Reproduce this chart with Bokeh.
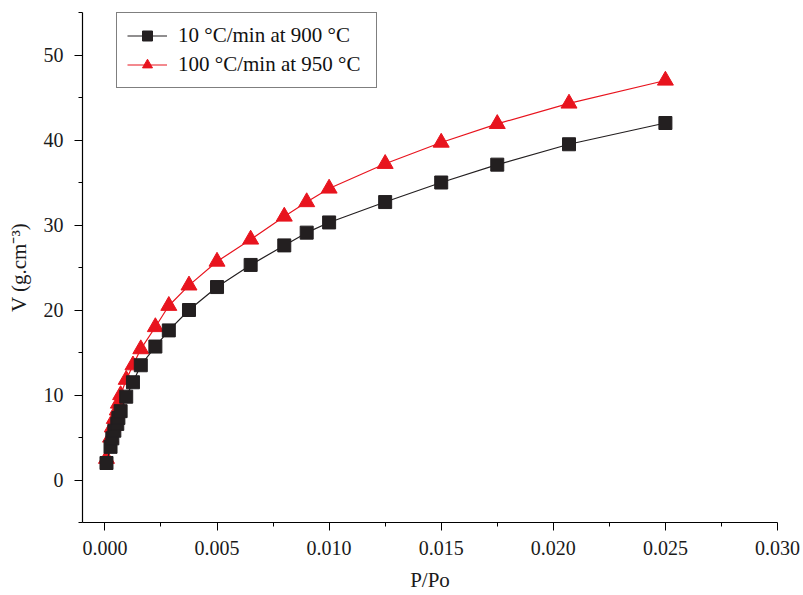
from bokeh.plotting import figure
from bokeh.models import FixedTicker, Legend, LegendItem, Range1d
from bokeh.embed import file_html
from bokeh.resources import INLINE

# P/Po values (shared by both series)
pp = [0.00007, 0.00025, 0.00033, 0.00042, 0.00055, 0.0006, 0.0007, 0.00095,
      0.00125, 0.0016, 0.00225, 0.00285, 0.00375, 0.005, 0.0065, 0.008,
      0.009, 0.010, 0.0125, 0.015, 0.0175, 0.0207, 0.025]
v_900 = [2.0, 3.9, 4.9, 5.8, 6.6, 7.3, 8.1, 9.8, 11.5, 13.5, 15.7, 17.6,
         20.0, 22.7, 25.3, 27.6, 29.1, 30.3, 32.7, 35.0, 37.1, 39.5, 42.0]
v_950 = [2.5, 5.0, 6.2, 7.2, 8.2, 9.0, 10.0, 11.8, 13.5, 15.4, 18.0, 20.5,
         22.9, 25.7, 28.3, 31.0, 32.7, 34.3, 37.2, 39.7, 41.9, 44.3, 47.0]
name_900 = "10 °C/min at 900 °C"
name_950 = "100 °C/min at 950 °C"
x_ticks = [0.000, 0.005, 0.010, 0.015, 0.020, 0.025, 0.030]
x_minor = [0.0025, 0.0075, 0.0125, 0.0175, 0.0225, 0.0275]
y_ticks = [0, 10, 20, 30, 40, 50]
y_minor = [-5, 5, 15, 25, 35, 45, 55]

FONT = "Liberation Serif"
BLACK = "#231f20"
RED = "#e8141e"

p = figure(width=803, height=595, output_backend="svg", toolbar_location=None,
           x_range=Range1d(-0.001, 0.030), y_range=Range1d(-5, 55),
           min_border_left=82, min_border_right=26, min_border_top=12,
           min_border_bottom=73)
p.outline_line_color = None
p.xgrid.visible = False
p.ygrid.visible = False
p.background_fill_color = "white"
p.border_fill_color = "white"

l1 = p.line(pp, v_900, line_color=BLACK, line_width=1.2)
s1 = p.scatter(pp, v_900, marker="square", size=13, fill_color=BLACK,
               line_color=BLACK)
l2 = p.line(pp, v_950, line_color=RED, line_width=1.2)
s2 = p.scatter(pp, v_950, marker="triangle", size=16, fill_color=RED,
               line_color=RED)
# draw squares on top
p.renderers = [l2, s2, l1, s1]

for ax in (p.xaxis[0], p.yaxis[0]):
    ax.axis_line_color = "black"
    ax.axis_line_width = 1.2
    ax.major_tick_line_color = "black"
    ax.minor_tick_line_color = "black"
    ax.major_tick_in = 0
    ax.major_tick_out = 8
    ax.minor_tick_in = 0
    ax.minor_tick_out = 4
    ax.major_label_text_font = FONT
    ax.major_label_text_font_size = "20px"
    ax.major_label_text_color = "#1a1a1a"
    ax.axis_label_text_font = FONT
    ax.axis_label_text_font_size = "21px"
    ax.axis_label_text_font_style = "normal"
    ax.axis_label_text_color = "#1a1a1a"

p.xaxis[0].ticker = FixedTicker(ticks=x_ticks, minor_ticks=x_minor)
p.yaxis[0].ticker = FixedTicker(ticks=y_ticks, minor_ticks=y_minor)
p.xaxis[0].major_label_overrides = {t: f"{t:.3f}" for t in x_ticks}
p.xaxis[0].axis_label = "P/Po"
p.yaxis[0].axis_label = "V (g.cm⁻³)"
p.xaxis[0].major_label_standoff = 10
p.yaxis[0].major_label_standoff = 11
p.xaxis[0].axis_label_standoff = 10
p.yaxis[0].axis_label_standoff = 10

legend = Legend(items=[LegendItem(label=name_900, renderers=[l1, s1]),
                       LegendItem(label=name_950, renderers=[l2, s2])],
                location=(34, 434))
legend.label_text_font = FONT
legend.label_text_font_size = "21px"
legend.label_text_color = "#111111"
legend.glyph_width = 40
legend.glyph_height = 25
legend.label_height = 25
legend.label_width = 188
legend.label_standoff = 11
legend.spacing = 4
legend.padding = 10
legend.margin = 0
legend.border_line_color = "black"
legend.border_line_width = 1
legend.background_fill_alpha = 1
p.add_layout(legend, "center")

open("out.html", "w").write(file_html(p, INLINE))
